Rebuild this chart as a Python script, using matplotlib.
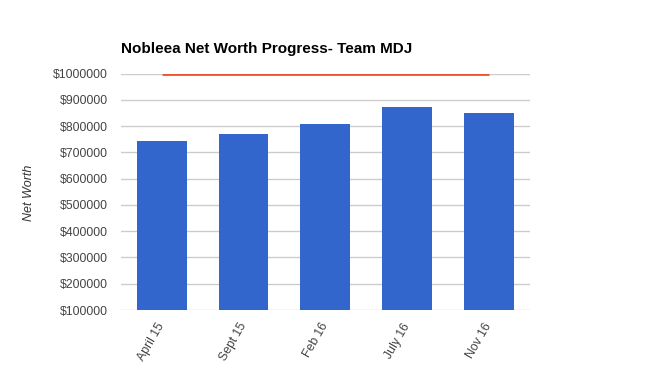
import matplotlib.pyplot as plt
plt.switch_backend('agg')
from matplotlib.ticker import FuncFormatter

plt.rcParams['font.family'] = ['Liberation Sans', 'DejaVu Sans']

periods = ['April 15', 'Sept 15', 'Feb 16', 'July 16', 'Nov 16']
net_worth = [745500, 771000, 806500, 874000, 848500]
goal = [1000000, 1000000, 1000000, 1000000, 1000000]
y_ticks = list(range(100000, 1000001, 100000))

fig = plt.figure(figsize=(6.5, 3.83), dpi=100)
ax = fig.add_axes([0.186, 0.1906, 0.629, 0.617])

x = list(range(len(periods)))
ax.bar(x, [v - 100000 for v in net_worth], bottom=100000, width=0.61,
       color='#3366cc', zorder=3)
ax.plot(x, goal, color='#e8552f', lw=2, zorder=4, solid_capstyle='butt')

ax.set_xlim(-0.5, len(periods) - 0.5)
ax.set_ylim(100000, 1000000)
ax.set_yticks(y_ticks)
ax.yaxis.set_major_formatter(FuncFormatter(lambda v, p: '$%d' % v))
ax.grid(axis='y', color='#cccccc', lw=1, zorder=0)
ax.set_xticks(x)
ax.set_xticklabels(periods, rotation=60, ha='right', va='center',
                   rotation_mode='anchor')
for s in ax.spines.values():
    s.set_visible(False)
ax.tick_params(length=0, labelsize=8.8, labelcolor='#444444')
ax.tick_params(axis='y', pad=9.5)
ax.tick_params(axis='x', pad=10)
ax.set_clip_on(False)

fig.text(29 / 650, 1 - 193 / 383, 'Net Worth', rotation=90, style='italic',
         fontsize=9, color='#333333', ha='center', va='center')
fig.text(0.186, 0.873, 'Nobleea Net Worth Progress- Team MDJ',
         fontsize=11, fontweight='bold', ha='left', va='center')

fig.savefig('out.png', dpi=100)
